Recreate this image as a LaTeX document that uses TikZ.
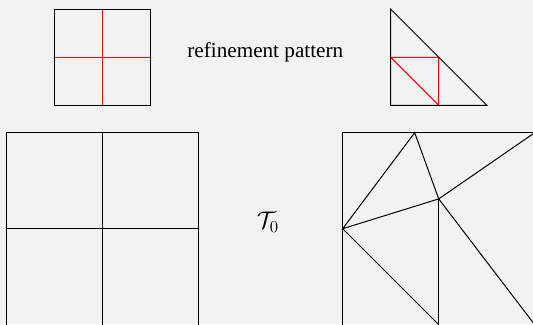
\documentclass[tikz,border=0pt]{standalone}
\usepackage{fontspec}
\setmainfont{Liberation Serif}
\definecolor{bgcol}{HTML}{F2F2F2}
\tikzset{
  meshline/.style={draw=black, line width=0.6pt, line join=miter},
  refline/.style={draw=red, line width=0.6pt},
  lbl/.style={inner sep=0pt, font=\fontsize{12.7}{15}\selectfont},
  mathlbl/.style={inner sep=0pt, font=\fontsize{13.8}{16}\selectfont},
}
\begin{document}
\begin{tikzpicture}[x=0.6pt, y=-0.6pt]
\fill[bgcol] (0,0) rectangle (533,324);
\useasboundingbox (0,0) rectangle (533,324);
\clip (0,0) rectangle (533,324);
% refinement pattern: square
\draw[refline] (102.5,9.2) -- (102.5,105.3);
\draw[refline] (54.4,57.3) -- (150.6,57.3);
\draw[meshline] (54.4,9.2) rectangle (150.6,105.3);
% refinement pattern: triangle
\coordinate (ta) at (390.7,9.2);
\coordinate (tb) at (390.7,105.3);
\coordinate (tc) at (486.8,105.3);
\coordinate (tab) at (390.7,57.3);
\coordinate (tbc) at (438.7,105.3);
\coordinate (tca) at (438.7,57.3);
\draw[refline] (tab) -- (tca) -- (tbc) -- cycle;
\draw[meshline] (ta) -- (tb) -- (tc) -- cycle;
\node[lbl] (pat) at (265.3,52) {refinement pattern};
% left mesh
\draw[meshline] (6.8,132.7) rectangle (198.8,326.5);
\draw[meshline] (102.8,132.7) -- (102.8,326.5);
\draw[meshline] (6.8,228.7) -- (198.8,228.7);
% label
\node[mathlbl] (t0) at (268,222.5) {$\mathcal{T}_0$};
% right mesh (unit square of 192 px)
\coordinate (p01) at (342.7,132.7);
\coordinate (pbl) at (342.7,326.5);
\coordinate (ptr) at (536,132.7);
\coordinate (p11) at (534.7,132.7);
\coordinate (p10) at (534.7,324.7);
\coordinate (pl) at (342.7,228.7);
\coordinate (pt) at (414.7,132.7);
\coordinate (pc) at (438.7,198.9);
\coordinate (pb) at (438.7,324.7);
\draw[meshline] (ptr) -- (p01) -- (pbl);
\draw[meshline] (pl) -- (pt) -- (pc) -- cycle;
\draw[meshline] (pc) -- (p11);
\draw[meshline] (pc) -- (p10);
\draw[meshline] (pc) -- (pb);
\draw[meshline] (pl) -- (pb);
\end{tikzpicture}
\end{document}
